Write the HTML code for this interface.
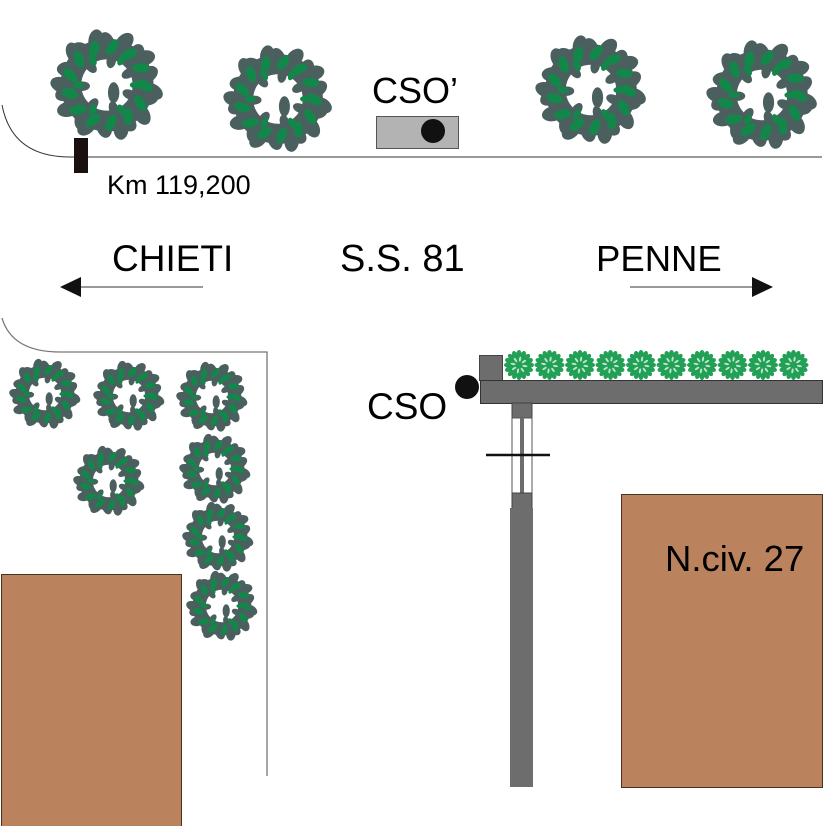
<!DOCTYPE html>
<html><head><meta charset="utf-8"><style>
html,body{margin:0;padding:0;background:#fff}
svg{display:block}
text{font-family:"Liberation Sans",sans-serif;fill:#000}
</style></head><body>
<svg id="s" width="829" height="826" viewBox="0 0 829 826" xmlns="http://www.w3.org/2000/svg">
<defs>
<symbol id="tree" viewBox="-60 -60 120 120"><g id="tg"></g></symbol>
<symbol id="bush" viewBox="-16 -16 32 32"><g id="bg"></g></symbol>
</defs>
<path d="M2,105 Q12,157 70,157 L822,157" fill="none" stroke="#333" stroke-width="1"/>
<rect x="74" y="138" width="14" height="35" fill="#1a1010"/>
<text x="107" y="194" font-size="27">Km 119,200</text>
<text x="372" y="103" font-size="36">CSO’</text>
<rect x="376.5" y="116.5" width="82" height="32" fill="#b3b3b3" stroke="#555"/>
<circle cx="433" cy="131" r="12" fill="#111"/>
<use href="#tree" x="49" y="28" width="116" height="114"/>
<use href="#tree" x="220" y="44" width="116" height="110"/>
<use href="#tree" x="533" y="34" width="116" height="112"/>
<use href="#tree" x="704" y="39" width="116" height="112"/>
<text x="112" y="271" font-size="37">CHIETI</text>
<text x="340" y="271" font-size="38">S.S. 81</text>
<text x="596" y="271" font-size="36.5">PENNE</text>
<line x1="78" y1="287" x2="203" y2="287" stroke="#333" stroke-width="1"/>
<polygon points="60,287 81,277 81,297" fill="#111"/>
<line x1="630" y1="287" x2="756" y2="287" stroke="#333" stroke-width="1"/>
<polygon points="773,287 752,277 752,297" fill="#111"/>
<path d="M2,318 Q12,352 60,352 L267,352 L267,776" fill="none" stroke="#777" stroke-width="1.3"/>
<use href="#tree" x="6" y="358" width="78" height="72"/>
<use href="#tree" x="90" y="360" width="78" height="72"/>
<use href="#tree" x="173" y="361" width="78" height="72"/>
<use href="#tree" x="70" y="445" width="78" height="72"/>
<use href="#tree" x="176" y="433" width="78" height="72"/>
<use href="#tree" x="179" y="501" width="78" height="72"/>
<use href="#tree" x="183" y="570" width="78" height="72"/>
<rect x="1.5" y="574.5" width="180" height="260" fill="#bb835d" stroke="#4a3020"/>
<text x="367" y="419" font-size="37">CSO</text>
<circle cx="467" cy="387" r="12" fill="#111"/>
<rect x="479.5" y="355.5" width="23" height="25" fill="#6d6d6d" stroke="#444"/>
<rect x="480.5" y="380.5" width="342" height="23" fill="#6d6d6d" stroke="#333"/>
<g id="bushes"></g>
<rect x="512" y="403" width="20" height="16" fill="#6d6d6d" stroke="#444"/>
<rect x="512" y="418" width="20" height="76" fill="#fff" stroke="#555"/>
<rect x="520" y="418" width="4" height="76" fill="#6d6d6d"/>
<rect x="512" y="493" width="20" height="16" fill="#6d6d6d" stroke="#444"/>
<rect x="510" y="508" width="23" height="279" fill="#6d6d6d"/>
<line x1="486" y1="455" x2="550" y2="455" stroke="#111" stroke-width="2.5"/>
<rect x="621.5" y="494.5" width="201" height="293" fill="#bb835d" stroke="#4a3020"/>
<text x="665" y="571" font-size="36.5">N.civ. 27</text>
</svg>
<script>
var NS="http://www.w3.org/2000/svg";
function el(n,a){var e=document.createElementNS(NS,n);for(var k in a)e.setAttribute(k,a[k]);return e;}
var tg=document.getElementById("tg");
var dark="#4b605e",green="#12874a";
tg.appendChild(el("circle",{cx:0,cy:0,r:38,fill:"none",stroke:dark,"stroke-width":22}));
for(var i=0;i<20;i++){var a=i*18+(i%3)*4;var r=44+(i%2)*4;tg.appendChild(el("ellipse",{cx:0,cy:-r,rx:8,ry:12,fill:dark,transform:"rotate("+a+") rotate("+((i%2)?20:-20)+" 0 "+(-r)+")"}));}
for(var i=0;i<7;i++){var a=i*360/7+10;tg.appendChild(el("ellipse",{cx:0,cy:-26,rx:5,ry:8,fill:dark,transform:"rotate("+a+")"}));}
for(var i=0;i<13;i++){var a=i*360/13+8;tg.appendChild(el("ellipse",{cx:0,cy:-40,rx:5,ry:9,fill:green,transform:"rotate("+a+") rotate(30 0 -40)"}));}
for(var i=0;i<6;i++){var a=i*60+30;tg.appendChild(el("ellipse",{cx:0,cy:-30,rx:3.5,ry:6,fill:green,transform:"rotate("+a+")"}));}
tg.appendChild(el("ellipse",{cx:7,cy:8,rx:6,ry:11,fill:dark}));
var bg=document.getElementById("bg");
bg.appendChild(el("circle",{cx:0,cy:0,r:11,fill:"#21a056"}));
for(var i=0;i<16;i++){bg.appendChild(el("ellipse",{cx:0,cy:-11,rx:2.5,ry:4,fill:"#21a056",transform:"rotate("+(i*22.5)+")"}));}
for(var i=0;i<8;i++){bg.appendChild(el("ellipse",{cx:0,cy:-6,rx:1,ry:2.5,fill:"#bfe5cc",transform:"rotate("+(i*45+10)+")"}));}
var b=document.getElementById("bushes");
for(var j=0;j<10;j++){b.appendChild(el("use",{href:"#bush",x:503+j*30.5,y:349,width:32,height:32}));}
</script>
</body></html>
